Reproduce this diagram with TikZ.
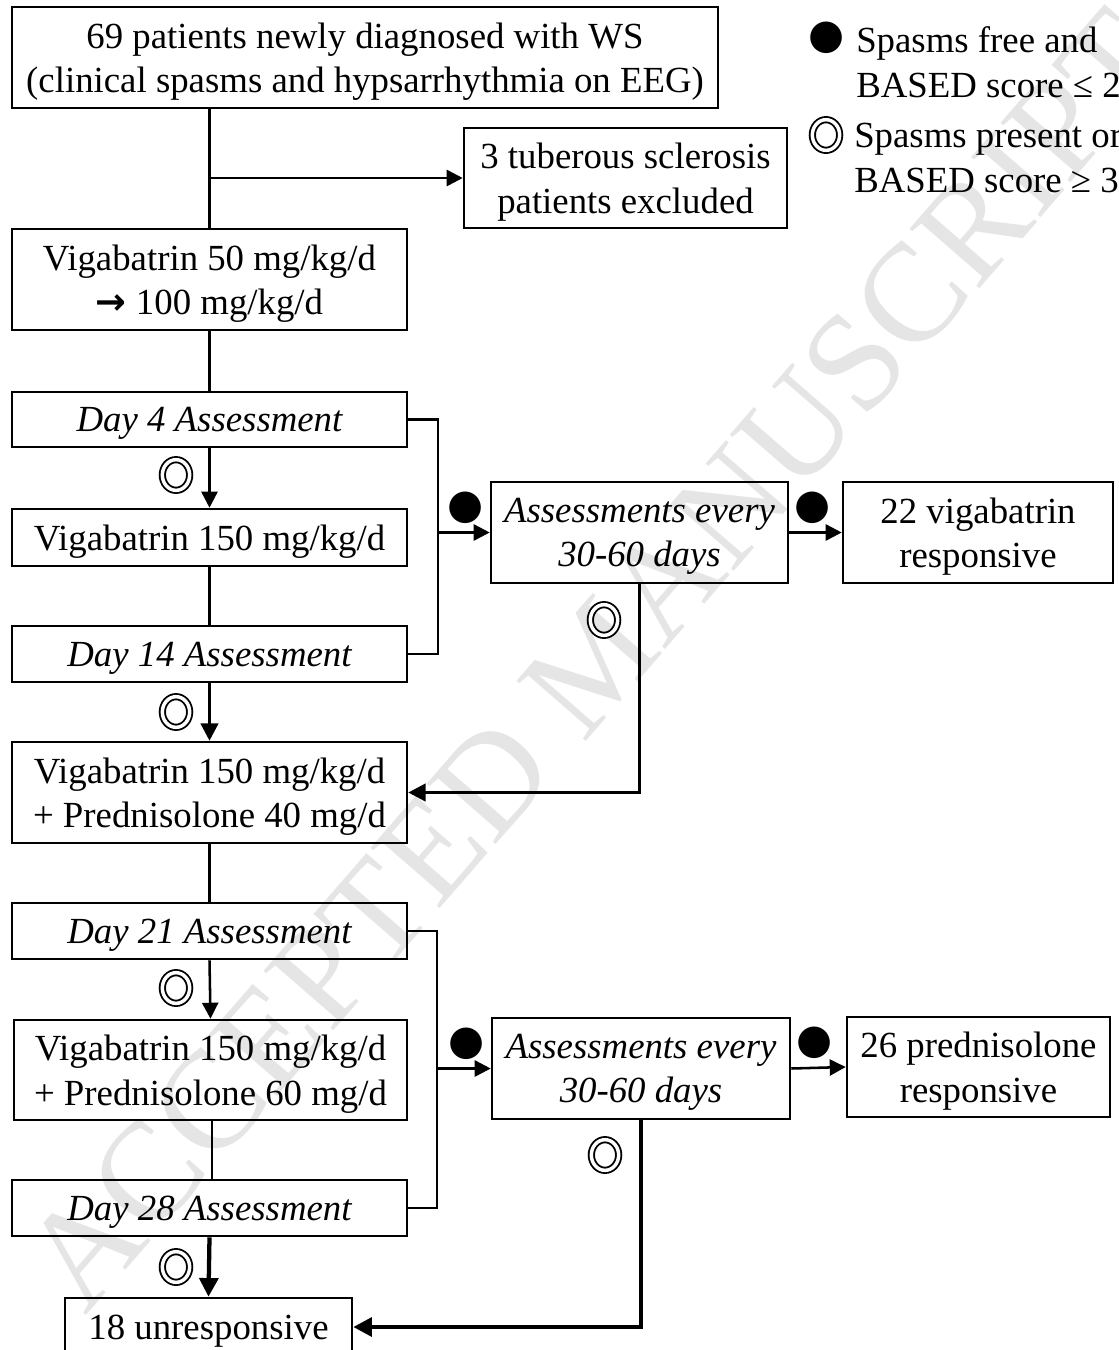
\documentclass[tikz,border=0pt]{standalone}
\usepackage{fontspec}
\setmainfont{Liberation Serif}
\newfontfamily\symfont{DejaVu Sans}
\usetikzlibrary{arrows.meta,shapes.geometric}
\begin{document}
\begin{tikzpicture}[x=0.75pt,y=-0.75pt,
  font=\fontsize{27.6}{33.4}\selectfont,
  bx/.style 2 args={draw, line width=1.9pt, inner sep=0pt, align=center, text depth=0pt,
    minimum width=#1*0.75pt, minimum height=#2*0.75pt},
  ln/.style={line width=1.9pt},
  ar/.style={line width=1.9pt, -{Triangle[length=12pt,width=12pt]}},
  arm/.style={line width=2.4pt, -{Triangle[length=13pt,width=13pt]}},
  ark/.style={line width=3.2pt, -{Triangle[length=14pt,width=14pt]}},
  yes/.style={font=\symfont\fontsize{31}{31}\selectfont, inner sep=0pt},
  no/.style={ellipse, draw, line width=1.4pt, double, double distance=2.6pt,
    minimum width=20.5pt, minimum height=23pt, inner sep=0pt},
  wm/.style={text=black!10, font=\fontsize{105}{105}\selectfont, rotate=49}
]
\useasboundingbox (0,0) rectangle (1118,1350);
\clip (0,0) rectangle (1118,1350);
\fill[white] (0,0) rectangle (1118,1350);

% watermark
\node[wm] (wmark) at (596,660) {ACCEPTED MANUSCRIPT};

% boxes
\node[bx={706}{101}] (top) at (365,57.5) {69 patients newly diagnosed with WS\\(clinical spasms and hypsarrhythmia on EEG)};
\node[bx={323}{100}] (ex) at (625.5,178) {3 tuberous sclerosis\\patients excluded};
\node[bx={395}{101}] (v50) at (209.5,279.5) {Vigabatrin 50 mg/kg/d\\{\symfont\bfseries →} 100 mg/kg/d};
\node[bx={395}{55}] (d4) at (209.5,419.5) {\itshape Day 4 Assessment};
\node[bx={395}{57}] (v150) at (209.5,537.5) {Vigabatrin 150 mg/kg/d};
\node[bx={395}{56}] (d14) at (209.5,654) {\itshape Day 14 Assessment};
\node[bx={395}{101}] (vp40) at (209.5,792.5) {Vigabatrin 150 mg/kg/d\\+ Prednisolone 40 mg/d};
\node[bx={395}{56}] (d21) at (209.5,931) {\itshape Day 21 Assessment};
\node[bx={393}{100}] (vp60) at (210.5,1070) {Vigabatrin 150 mg/kg/d\\+ Prednisolone 60 mg/d};
\node[bx={395}{56}] (d28) at (209.5,1208) {\itshape Day 28 Assessment};
\node[bx={287}{58}] (un) at (208.5,1327) {18 unresponsive};
\node[bx={297}{101}] (a1) at (639.5,532.5) {\itshape Assessments every\\\itshape 30-60 days};
\node[bx={270}{101}] (r1) at (978,532.5) {22 vigabatrin\\responsive};
\node[bx={298}{101}] (a2) at (641,1068.5) {\itshape Assessments every\\\itshape 30-60 days};
\node[bx={263}{100}] (r2) at (978.5,1067) {26 prednisolone\\responsive};

% legend
\node[yes] (lg1) at (827,38) {●};
\node[no] (lg2) at (826,135) {};
\node[anchor=west, align=left, inner sep=0pt, text depth=0pt] (lt1) at (856,62) {Spasms free and\\BASED score ≤ 2};
\node[anchor=west, align=left, inner sep=0pt, text depth=0pt] (lt2) at (854,158) {Spasms present or\\BASED score ≥ 3};

% main column
\coordinate (j0) at (209,178);
\draw[ln] (top.south -| v50.north) -- (v50.north);
\draw[ar] (j0) -- (ex.west);
\draw[ln] (v50.south) -- (d4.north);
\draw[ar] (d4.south) -- (v150.north);
\draw[ln] (v150.south) -- (d14.north);
\draw[arm] (d14.south) -- (vp40.north);
\draw[ln] (vp40.south) -- (d21.north);
\draw[ar] (d21.south) -- (vp60.north);
\draw[ln] (vp60.south -| 212,0) -- (d28.north -| 212,0);
\draw[ark] (d28.south) -- (un.north);

% first bracket
\coordinate (j1) at (438,532.5);
\draw[ln] (d4.east) -| (j1) |- (d14.east);
\draw[ar] (j1) -- (a1.west);
\draw[ar] (a1.east) -- (r1.west);
\draw[arm] (a1.south) |- (vp40.east);

% second bracket
\coordinate (j2) at (437,1068.5);
\draw[ln] (d21.east) -| (j2) |- (d28.east);
\draw[ar] (j2) -- (a2.west);
\draw[ar] (a2.east) -- (r2.west);
\draw[ark] (a2.south) |- (un.east);

% markers
\node[no] (m1) at (176,475) {};
\node[no] (m2) at (176,712) {};
\node[no] (m3) at (176,988) {};
\node[no] (m4) at (176,1267) {};
\node[no] (m5) at (604,620) {};
\node[no] (m6) at (605,1155) {};
\node[yes] (m7) at (466,508) {●};
\node[yes] (m8) at (813,508) {●};
\node[yes] (m9) at (467,1044) {●};
\node[yes] (m10) at (815,1043) {●};
\end{tikzpicture}
\end{document}
